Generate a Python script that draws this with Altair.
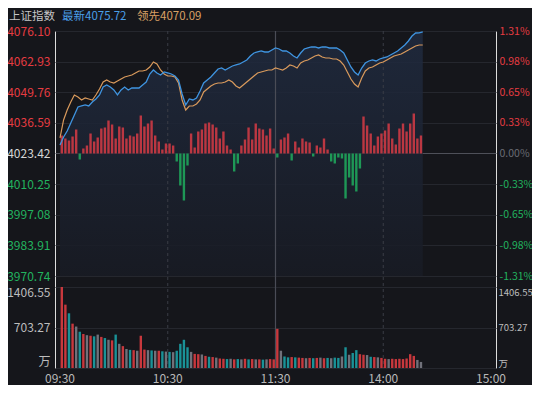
import altair as alt
import pandas as pd

# ---------------- data ----------------
BASE = 4023.42
PRICE_TICKS = [3970.74, 3983.91, 3997.08, 4010.25, 4023.42, 4036.59, 4049.76, 4062.93, 4076.10]
PRICE_DOMAIN = [3970.74, 4076.10]
VOL_TICKS = [0, 703.27, 1406.55]
VOL_DOMAIN = [0, 1406.55]
TIME_TICKS = [0, 60, 120, 180, 240]
TIME_LABELS = ["09:30", "10:30", "11:30", "14:00", "15:00"]
TITLE = "上证指数"
LATEST_TXT = "最新4075.72"
LEADING_TXT = "领先4070.09"

line_minutes = list(range(0, 203, 2))
latest = [
    4027.08, 4030.52, 4033.10, 4036.54, 4039.98, 4043.42, 4043.85, 4044.28, 4043.85, 4045.57,
    4046.86, 4048.58, 4052.02, 4052.88, 4052.02, 4050.73, 4048.58, 4050.73, 4052.02, 4050.73,
    4051.59, 4051.59, 4051.59, 4052.88, 4054.17, 4057.61, 4059.33, 4058.04, 4057.18, 4058.47,
    4058.04, 4057.61, 4056.75, 4055.03, 4049.01, 4044.28, 4046.86, 4046.43, 4047.29, 4050.30,
    4053.74, 4055.03, 4056.32, 4058.04, 4059.76, 4060.19, 4059.33, 4060.19, 4061.05, 4061.48,
    4061.91, 4062.77, 4063.63, 4065.35, 4066.64, 4067.07, 4067.50, 4067.07, 4067.07, 4067.93,
    4068.79, 4068.36, 4067.50, 4067.50, 4066.64, 4065.35, 4064.49, 4066.64, 4068.36, 4068.79,
    4069.22, 4069.22, 4068.79, 4069.22, 4069.22, 4068.79, 4068.79, 4068.79, 4067.93, 4066.64,
    4063.63, 4060.62, 4058.47, 4057.18, 4060.19, 4062.34, 4063.20, 4063.63, 4063.20, 4064.06,
    4064.49, 4064.92, 4065.78, 4066.64, 4067.50, 4068.79, 4070.08, 4071.80, 4073.95, 4075.24,
    4075.30, 4075.72,
]
leading = [
    4030.09, 4037.83, 4042.13, 4045.57, 4048.58, 4047.72, 4046.43, 4047.29, 4046.86, 4046.43,
    4048.58, 4051.16, 4054.17, 4055.03, 4054.17, 4053.74, 4054.60, 4055.46, 4056.32, 4056.75,
    4057.18, 4058.04, 4058.90, 4058.90, 4059.33, 4060.62, 4062.77, 4061.91, 4059.33, 4057.61,
    4056.75, 4056.75, 4056.32, 4053.74, 4046.43, 4042.13, 4043.85, 4043.85, 4044.71, 4046.43,
    4049.87, 4051.16, 4052.45, 4053.31, 4053.74, 4053.74, 4054.17, 4055.03, 4054.17, 4052.45,
    4051.59, 4052.88, 4054.17, 4055.46, 4056.75, 4058.04, 4058.47, 4058.90, 4059.33, 4059.33,
    4060.19, 4059.76, 4059.33, 4060.19, 4061.48, 4061.05, 4060.19, 4062.34, 4063.20, 4063.63,
    4064.49, 4065.35, 4065.78, 4064.92, 4064.49, 4064.49, 4064.06, 4064.06, 4063.20, 4061.48,
    4058.47, 4055.46, 4053.31, 4052.02, 4055.89, 4058.90, 4060.19, 4060.62, 4061.48, 4062.34,
    4062.77, 4063.63, 4064.49, 4065.35, 4065.78, 4066.21, 4067.07, 4067.93, 4068.79, 4069.65,
    4070.09, 4070.09,
]

bar_minutes = list(range(0, 201, 2))
strength = [
    18, 15, 13, 17, 24, -6, 5, 8, 20, 12,
    16, 25, 26, 33, 29, 15, 27, 26, 15, 18,
    17, 20, 38, 27, 30, 33, 18, 12, 4, 10,
    10, 8, -8, -32, -47, -12, 20, 6, 22, 24,
    30, 31, 29, 26, 15, 22, 8, 4, -18, -10,
    8, 14, 26, 14, 30, 25, 24, 18, 25, 5,
    -4, 14, 16, 20, -7, 12, 6, 15, 12, 11,
    -3, 8, 6, 15, 4, -8, -10, -4, -5, -45,
    -24, -32, -38, -15, 37, 28, 20, 8, 17, 20,
    23, 30, 15, 9, 25, 30, 22, 30, 40, 15,
    18,
]
volume = [
    1406.55, 1100, 950, 770, 720, 630, 590, 570, 560, 550,
    580, 540, 520, 490, 480, 580, 420, 380, 330, 315,
    310, 300, 560, 320, 310, 305, 300, 300, 290, 285,
    280, 275, 300, 420, 490, 360, 280, 245, 240, 235,
    210, 195, 190, 180, 165, 160, 155, 160, 150, 155,
    150, 160, 150, 155, 150, 150, 145, 150, 155, 150,
    680, 300, 200, 185, 190, 185, 180, 175, 170, 175,
    170, 175, 180, 170, 175, 170, 180, 175, 200, 360,
    230, 260, 310, 240, 230, 225, 195, 190, 185, 175,
    160, 155, 160, 155, 160, 155, 165, 240, 210, 140,
    105,
]
vol_dir = [
    "r", "r", "t", "r", "g", "t", "r", "g", "r", "t",
    "g", "r", "t", "g", "r", "t", "g", "r", "g", "t",
    "r", "g", "r", "r", "g", "t", "g", "r", "t", "g",
    "t", "g", "t", "t", "t", "t", "g", "r", "r", "g",
    "r", "t", "r", "g", "r", "r", "t", "g", "r", "t",
    "g", "r", "t", "r", "g", "r", "t", "g", "r", "r",
    "r", "g", "t", "t", "r", "t", "r", "r", "g", "r",
    "t", "r", "g", "r", "t", "g", "t", "t", "g", "t",
    "g", "t", "t", "r", "r", "g", "t", "r", "g", "r",
    "r", "g", "r", "r", "r", "r", "r", "r", "r", "g",
    "g",
]

# ---------------- styling ----------------
FONT = "Noto Sans CJK SC"
BG = "#15161b"
RED_LBL = "#e63c42"
GREEN_LBL = "#22b35f"
W, H = 441, 337
TOP_H = 245
VOL_TOP = 256
PAD_L, PAD_T, PAD_R, PAD_B = 47, 23, 36, 17

lines_df = pd.DataFrame({"t": line_minutes, "latest": latest, "leading": leading})
bars_df = pd.DataFrame({"t": bar_minutes, "strength": strength, "volume": volume, "dir": vol_dir})
bars_df["sign"] = ["up" if v >= 0 else "down" for v in strength]
time_df = pd.DataFrame({"t": TIME_TICKS, "label": TIME_LABELS})

xscale = alt.Scale(domain=[0, 240], nice=False, zero=False)


def price_scale():
    return alt.Scale(domain=PRICE_DOMAIN, range=[TOP_H, 0], zero=False, nice=False)


def vol_scale():
    return alt.Scale(domain=VOL_DOMAIN, range=[H, VOL_TOP], zero=False, nice=False)


price_label_color = {
    "condition": [
        {"test": f"datum.value > {BASE} + 0.01", "value": RED_LBL},
        {"test": f"datum.value < {BASE} - 0.01", "value": GREEN_LBL},
    ],
    "value": "#d6d6d6",
}
pct_label_color = {
    "condition": [
        {"test": f"datum.value > {BASE} + 0.01", "value": RED_LBL},
        {"test": f"datum.value < {BASE} - 0.01", "value": GREEN_LBL},
    ],
    "value": "#6a6c74",
}
pct_expr = (
    f"abs(datum.value - {BASE}) < 0.01 ? '0.00%' : "
    f"(datum.value < {BASE} ? '-' : '') + format(abs(datum.value - {BASE}) / {BASE} * 100, '.2f') + '%'"
)
vol_expr = "datum.value == 0 ? '万' : format(datum.value, '.2f')"

common_axis = dict(domain=False, ticks=False, title=None, labelFont=FONT, labelFontSize=12,
                   labelOverlap=False, labelFlush=False)
right_axis = {**common_axis, "labelFontSize": 10.5}

# area under the latest price
area = alt.Chart(lines_df).mark_area(
    color=alt.Gradient(
        gradient="linear",
        stops=[alt.GradientStop(color="#202b40", offset=0),
               alt.GradientStop(color="#181b24", offset=1)],
        x1=0, x2=0, y1=0, y2=1,
    ),
    opacity=0.85,
).encode(
    x=alt.X("t:Q", scale=xscale, axis=None),
    y=alt.Y("latest:Q", scale=price_scale(),
            axis=alt.Axis(orient="left", values=PRICE_TICKS, format=".2f", labelPadding=5,
                          labelColor=price_label_color, grid=True,
                          gridColor={"condition": {"test": f"abs(datum.value - {BASE}) < 0.01",
                                                   "value": "#4e5059"},
                                     "value": "#25272e"},
                          **common_axis)),
    y2=alt.datum(PRICE_DOMAIN[0]),
)

rule_solid = alt.Chart(pd.DataFrame({"t": [120]})).mark_rule(
    color="#4a4c56", strokeWidth=1.2
).encode(x=alt.X("t:Q", scale=xscale, axis=None))
rule_dash = alt.Chart(pd.DataFrame({"t": [60, 180]})).mark_rule(
    color="#3a3c46", strokeWidth=1, strokeDash=[3, 3]
).encode(x=alt.X("t:Q", scale=xscale, axis=None))

strength_bars = alt.Chart(bars_df).mark_bar(size=2.4, xOffset=1.8, opacity=0.88).encode(
    x=alt.X("t:Q", scale=xscale, axis=None),
    y=alt.Y("strength:Q", scale=alt.Scale(domain=[-122.5, 122.5], range=[TOP_H, 0], zero=False, nice=False),
            axis=None),
    y2=alt.datum(0),
    color=alt.Color("sign:N", scale=alt.Scale(domain=["up", "down"], range=["#d23a44", "#1fa85c"]),
                    legend=None),
)

leading_line = alt.Chart(lines_df).mark_line(color="#d99a5c", strokeWidth=1.2).encode(
    x=alt.X("t:Q", scale=xscale, axis=None),
    y=alt.Y("leading:Q", scale=price_scale(),
            axis=alt.Axis(orient="right", values=PRICE_TICKS, labelExpr=pct_expr, labelPadding=3,
                          labelColor=pct_label_color, grid=False, **right_axis)),
)

latest_line = alt.Chart(lines_df).mark_line(color="#3f94e0", strokeWidth=1.3).encode(
    x=alt.X("t:Q", scale=xscale, axis=None),
    y=alt.Y("latest:Q", scale=price_scale(), axis=None),
)

vol_bars = alt.Chart(bars_df).mark_bar(size=2.4, xOffset=1.8).encode(
    x=alt.X("t:Q", scale=xscale, axis=None),
    y=alt.Y("volume:Q", scale=vol_scale(),
            axis=alt.Axis(orient="left", values=VOL_TICKS, labelExpr=vol_expr, labelPadding=5,
                          labelColor="#bdbdbd", grid=True, gridColor="#25272e",
                          **{**common_axis, "labelFlush": True})),
    y2=alt.datum(0),
    color=alt.Color("dir:N", scale=alt.Scale(domain=["r", "t", "g"],
                                             range=["#c8383d", "#1a9297", "#70717a"]),
                    legend=None),
)

vol_right = alt.Chart(pd.DataFrame({"v": [0]})).mark_rule(strokeOpacity=0).encode(
    y=alt.YDatum(0, scale=vol_scale(),
                 axis=alt.Axis(orient="right", values=VOL_TICKS, labelExpr=vol_expr, labelPadding=2,
                               labelColor="#bdbdbd", grid=False,
                               **{**right_axis, "labelFontSize": 9.5, "labelFlush": True})),
)

# time labels under the volume panel, placed through the shared x scale
time_labels = alt.Chart(time_df).mark_text(
    baseline="middle", align="center", font=FONT, fontSize=12, color="#b9b9b9"
).encode(
    x=alt.X("t:Q", scale=xscale, axis=None),
    y=alt.value(H + 11),
    text="label:N",
)


def header(text, x, color):
    return alt.Chart(pd.DataFrame({"label": [text]})).mark_text(
        align="left", baseline="middle", font=FONT, fontSize=11.5, color=color
    ).encode(x=alt.value(x), y=alt.value(-14.5), text="label:N")


chart = alt.layer(
    area, rule_dash, rule_solid, strength_bars, leading_line, latest_line, vol_bars, vol_right,
    time_labels,
    header(TITLE, -46, "#c6c6c6"),
    header(LATEST_TXT, 7, "#4a9fe8"),
    header(LEADING_TXT, 82, "#d9a064"),
).resolve_scale(
    y="independent", color="independent"
).properties(
    width=W, height=H,
    autosize=alt.AutoSizeParams(type="none"),
    padding={"left": PAD_L, "top": PAD_T, "right": PAD_R, "bottom": PAD_B},
    background=BG,
).configure_view(
    stroke="#2b2d35", strokeWidth=1
).configure(font=FONT)

chart.save("out.html", embed_options={"renderer": "svg", "actions": False})
